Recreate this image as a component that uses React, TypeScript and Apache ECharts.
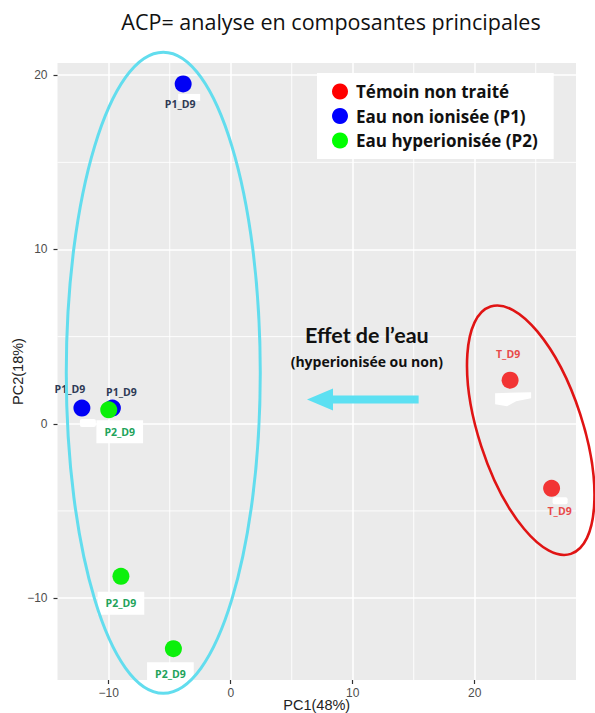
import React, { useEffect, useRef } from 'react';
import * as echarts from 'echarts';

// ---- data ----
const seriesNames = ['Témoin non traité', 'Eau non ionisée (P1)', 'Eau hyperionisée (P2)'];
const pointLabels = ['T_D9', 'P1_D9', 'P2_D9'];
const tX = [22.9, 26.3];
const tY = [2.5, -3.7];
const p1X = [-3.9, -12.2, -9.7];
const p1Y = [19.5, 0.9, 0.9];
const p2X = [-10.0, -9.0, -4.7];
const p2Y = [0.8, -8.75, -12.9];
const xTicks = [-10, 0, 10, 20];
const yTicks = [-10, 0, 10, 20];
const xMinor = [-5, 5, 15, 25];
const yMinor = [-5, 5, 15];
const xRange = [-14.2, 28.3];
const yRange = [-14.7, 20.7];
const titleText = 'ACP= analyse en composantes principales';
const xName = 'PC1(48%)';
const yName = 'PC2(18%)';
const effectTitle = 'Effet de l\u2019eau';
const effectSub = '(hyperionisée ou non)';

// ---- annotation layout (data-anchored) ----
const tLabelOffsets = [[-2, -26], [8, 23]];
const p1LabelOffsets = [[-3, 20], [-12, -19], [9, -16]];
const p2LabelOffsets = [[11, 22], [0, 27], [-3, 25]];
const cyanCenter = [-5.53, 2.93];
const redCenter = [24.59, -0.37];
const arrowFrom = [15.4, 1.4];
const arrowTo = [6.25, 1.4];

const fmt = (v: number) => String(v).replace('-', '\u2212');

export default function App() {
  const ref = useRef<HTMLDivElement>(null);
  useEffect(() => {
    document.body.style.margin = '0';
    const chart = echarts.init(ref.current!, null, { renderer: 'svg' });
    const mk = (xs: number[], ys: number[], offs: number[][]) =>
      xs.map((x, i) => ({ value: [x, ys[i]], label: { offset: offs[i] } }));
    const baseLabel = {
      show: true,
      position: 'inside',
      fontSize: 10.5,
      fontWeight: 'bold',
      fontFamily: 'Open Sans',
      align: 'center',
      verticalAlign: 'middle',
    };
    const minorSeries = (vals: number[], isX: boolean) =>
      vals.map((v) => ({
        type: 'line',
        silent: true,
        symbol: 'none',
        z: 1,
        lineStyle: { color: '#ffffff', width: 0.9 },
        data: isX ? [[v, yRange[0]], [v, yRange[1]]] : [[xRange[0], v], [xRange[1], v]],
      }));
    const option: any = {
      animation: false,
      grid: {
        left: 57.5,
        right: 19,
        top: 63,
        bottom: 33,
        show: true,
        backgroundColor: '#EBEBEB',
        borderWidth: 0,
        outerBoundsMode: 'none',
        containLabel: false,
      },
      legend: {
        orient: 'vertical',
        left: 317,
        top: 73,
        padding: [10, 16, 10, 15],
        backgroundColor: '#ffffff',
        itemWidth: 16,
        itemHeight: 16,
        itemGap: 7.5,
        icon: 'circle',
        textStyle: { fontFamily: 'Open Sans', fontWeight: 'bold', fontSize: 17, color: '#111', padding: [0, 0, 0, 3] },
        data: [
          { name: seriesNames[0], itemStyle: { color: '#FF0000' } },
          { name: seriesNames[1], itemStyle: { color: '#0000FF' } },
          { name: seriesNames[2], itemStyle: { color: '#00FF00' } },
        ],
      },
      xAxis: {
        type: 'value',
        min: xRange[0],
        max: xRange[1],
        name: xName,
        nameLocation: 'middle',
        nameGap: 17,
        nameMoveOverlap: false,
        nameTextStyle: { fontFamily: 'Liberation Sans', fontSize: 14.5, color: '#222' },
        axisLine: { show: false, onZero: false },
        axisTick: { show: true, length: 4, customValues: xTicks, lineStyle: { color: '#333', width: 1.2 } },
        axisLabel: { customValues: xTicks, formatter: fmt, margin: 7, fontFamily: 'Liberation Sans', fontSize: 12, color: '#4D4D4D' },
        splitLine: { show: true, lineStyle: { color: '#ffffff', width: 1.5 } },
      },
      yAxis: {
        type: 'value',
        min: yRange[0],
        max: yRange[1],
        name: yName,
        nameLocation: 'middle',
        nameGap: 32,
        nameRotate: 90,
        nameMoveOverlap: false,
        nameTextStyle: { fontFamily: 'Liberation Sans', fontSize: 14.5, color: '#222' },
        axisLine: { show: false, onZero: false },
        axisTick: { show: true, length: 4, customValues: yTicks, lineStyle: { color: '#333', width: 1.2 } },
        axisLabel: { customValues: yTicks, formatter: fmt, margin: 10, fontFamily: 'Liberation Sans', fontSize: 12, color: '#4D4D4D' },
        splitLine: { show: true, lineStyle: { color: '#ffffff', width: 1.5 } },
      },
      series: [
        ...minorSeries(xMinor, true),
        ...minorSeries(yMinor, false),
        {
          name: seriesNames[0],
          type: 'scatter',
          symbolSize: 17,
          z: 3,
          itemStyle: { color: '#F23434', opacity: 1 },
          label: { ...baseLabel, formatter: pointLabels[0], color: '#E84A4A' },
          data: mk(tX, tY, tLabelOffsets),
        },
        {
          name: seriesNames[1],
          type: 'scatter',
          symbolSize: 17,
          z: 3,
          itemStyle: { color: '#0000F5', opacity: 1 },
          label: { ...baseLabel, formatter: pointLabels[1], color: '#2E3A55' },
          data: mk(p1X, p1Y, p1LabelOffsets),
        },
        {
          name: seriesNames[2],
          type: 'scatter',
          symbolSize: 17,
          z: 3,
          itemStyle: { color: '#0BF00B', opacity: 1 },
          label: { ...baseLabel, formatter: pointLabels[2], color: '#22A35A', backgroundColor: '#ffffff', padding: [6, 8] },
          data: mk(p2X, p2Y, p2LabelOffsets),
        },
      ],
    };
    chart.setOption(option);

    const px = (p: number[]) => chart.convertToPixel({ gridIndex: 0 }, p) as number[];
    const cc = px(cyanCenter);
    const rc = px(redCenter);
    const a0 = px(arrowFrom);
    const a1 = px(arrowTo);
    const tp0 = px([tX[0], tY[0]]);
    const tp1 = px([tX[1], tY[1]]);
    const pp1 = px([p1X[1], p1Y[1]]);
    const pp0 = px([p1X[0], p1Y[0]]);
    const sh = 4;
    const headL = 26;
    const headH = 11;
    const arrowPts = [
      [a0[0], a0[1] - sh],
      [a1[0] + headL, a0[1] - sh],
      [a1[0] + headL, a1[1] - headH],
      [a1[0], a1[1]],
      [a1[0] + headL, a1[1] + headH],
      [a1[0] + headL, a0[1] + sh],
      [a0[0], a0[1] + sh],
    ];
    const rel = (c: number[], pts: number[][]) => pts.map((p) => [c[0] + p[0], c[1] + p[1]]);
    const midX = (a0[0] + a1[0]) / 2 + 4;
    chart.setOption({
      graphic: [
        {
          type: 'text',
          x: 331,
          y: 21,
          style: { text: titleText, fill: '#111', font: '21.5px "Open Sans"', align: 'center', verticalAlign: 'middle' },
        },
        {
          type: 'polygon',
          z: 50,
          shape: { points: rel(tp0, [[-15, 13], [21, 12], [21, 18], [6, 21], [-3, 26], [-15, 24]]) },
          style: { fill: '#ffffff' },
        },
        {
          type: 'rect',
          z: 50,
          shape: { x: tp1[0] + 1, y: tp1[1] + 9, width: 15, height: 7, r: 2 },
          style: { fill: '#ffffff' },
        },
        {
          type: 'rect',
          z: 50,
          shape: { x: pp1[0] - 2, y: pp1[1] + 11, width: 16, height: 8, r: 2 },
          style: { fill: '#ffffff' },
        },
        {
          type: 'rect',
          z: 1,
          shape: { x: pp0[0] - 5, y: pp0[1] + 10, width: 22, height: 7 },
          style: { fill: '#ffffff' },
        },
        {
          type: 'ellipse',
          z: 60,
          shape: { cx: cc[0], cy: cc[1], rx: 97, ry: 320.5 },
          style: { fill: 'none', stroke: '#62DDEE', lineWidth: 3 },
          silent: true,
        },
        {
          type: 'ellipse',
          z: 60,
          x: rc[0],
          y: rc[1],
          rotation: (18 * Math.PI) / 180,
          shape: { cx: 0, cy: 0, rx: 52, ry: 130 },
          style: { fill: 'none', stroke: '#E01414', lineWidth: 2.6 },
          silent: true,
        },
        {
          type: 'polygon',
          z: 60,
          shape: { points: arrowPts },
          style: { fill: '#5CE0F2' },
        },
        {
          type: 'text',
          z: 60,
          x: midX,
          y: a0[1] - 64,
          style: { text: effectTitle, fill: '#111', font: 'bold 21.5px Lato', align: 'center', verticalAlign: 'middle' },
        },
        {
          type: 'text',
          z: 60,
          x: midX,
          y: a0[1] - 37.5,
          style: { text: effectSub, fill: '#111', font: 'bold 14px "Open Sans"', align: 'center', verticalAlign: 'middle' },
        },
      ],
    });
    return () => chart.dispose();
  }, []);
  return <div ref={ref} style={{ width: 595, height: 713 }} />;
}
